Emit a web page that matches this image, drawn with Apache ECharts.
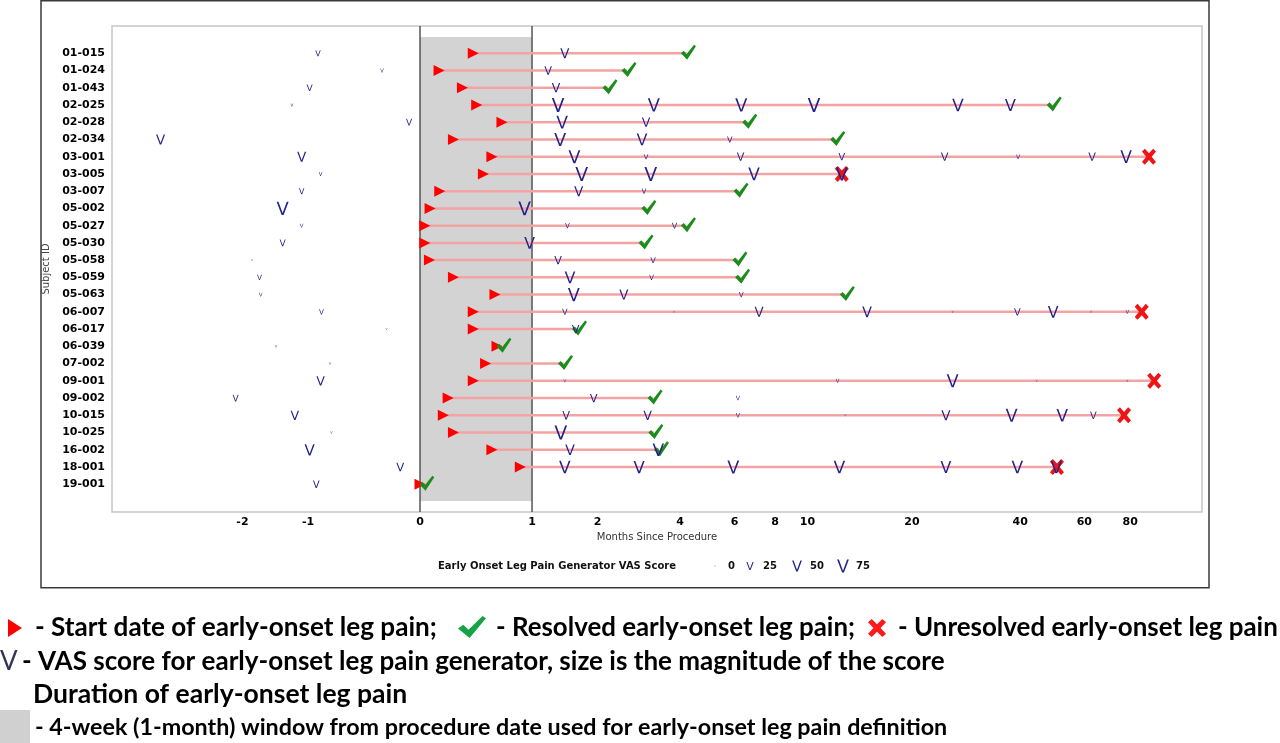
<!DOCTYPE html>
<html><head><meta charset="utf-8">
<script src="https://cdn.jsdelivr.net/npm/echarts@6/dist/echarts.min.js"></script>
<style>html,body{margin:0;padding:0;background:#fff;}#c{width:1280px;height:743px;}</style>
</head><body><div id="c"></div>
<script>
// ---------------- DATA ----------------
const subjects = ['01-015','01-024','01-043','02-025','02-028','02-034','03-001','03-005','03-007','05-002','05-027','05-030','05-058','05-059','05-063','06-007','06-017','06-039','07-002','09-001','09-002','10-015','10-025','16-002','18-001','19-001'];
// months since procedure
const painStart = [0.39,0.125,0.30,0.42,0.66,0.23,0.56,0.48,0.13,0.064,0.03,0.03,0.06,0.23,0.59,0.39,0.39,0.61,0.50,0.39,0.19,0.155,0.23,0.56,0.86,0.0];
const painEnd   = [4.2,2.6,2.2,49,6.6,12.1,90,12.6,6.2,3.07,4.2,3.0,6.15,6.27,12.9,86,1.65,0.66,1.43,93,3.23,77,3.25,3.4,50.5,0.03];
const resolved  = [1,1,1,1,1,1,0,0,1,1,1,1,1,1,1,0,1,1,1,0,1,0,1,1,0,1];
// VAS assessments per subject: months and score
const vasMonths = [
  [-0.88,1.45],
  [-0.265,1.21],
  [-0.98,1.32],
  [-1.21,1.35,3.25,6.3,10.45,26.9,37.6],
  [-0.07,1.41,3.05],
  [-3.98,1.38,2.95,5.8],
  [-1.08,1.6,3.05,6.27,12.6,24.7,39.5,63,78],
  [-0.85,1.72,3.17,6.9,12.6],
  [-1.08,1.67,3.0],
  [-1.34,0.91],
  [-1.08,1.49,3.83],
  [-1.34,0.97],
  [-1.83,1.35,3.23],
  [-1.70,1.53,3.19],
  [-1.68,1.59,2.53,6.3],
  [-0.84,1.45,3.81,7.15,14.9,26.0,39.3,49.3,62.6,78.6],
  [-0.23,1.62],
  [-1.44],
  [-0.745],
  [-0.85,1.45,12.25,26.0,44.4,78.6],
  [-2.13,1.93,6.15],
  [-1.17,1.47,3.09,6.15,12.9,24.9,37.9,52.2,63.5],
  [-0.73,1.39],
  [-0.98,1.53,3.37],
  [-0.13,1.45,2.88,5.95,12.4,24.9,39.3,50.3],
  [-0.9]
];
const vasScores = [
  [12,41],
  [4,27],
  [16,35],
  [2,85,78,78,85,70,62],
  [16,70,35],
  [41,75,60,12],
  [41,75,8,27,20,27,6,27,70],
  [4,87,87,70,78],
  [12,41,8],
  [78,85],
  [4,8,12],
  [16,59],
  [0,27,12],
  [9,59,8],
  [4,75,41,8],
  [9,12,0,41,47,0,20,59,0,4],
  [0,27],
  [1],
  [1],
  [35,2,4,75,0,0],
  [16,27,6],
  [35,27,35,6,0,41,75,70,20],
  [1,87],
  [54,47,70],
  [30,70,65,75,70,60,70,70],
  [20]
];
const windowMonths = [0, 1];
const xTickLabels = [-2,-1,0,1,2,4,6,8,10,20,40,60,80];
const legendScores = [0,25,50,75];

// ---------------- HELPERS ----------------
const tf = m => Math.sign(m) * Math.log(1 + Math.abs(m));
const inv = t => Math.sign(t) * (Math.exp(Math.abs(t)) - 1);
const vH = s => Math.max(2, 1.2 + 1.37 * Math.sqrt(s));
const V_PTS = [[0,0],[1.5,0],[5,9.4],[8.5,0],[10,0],[5.8,11],[4.2,11]];
const TRI_PTS = [[0,0],[10,5],[0,10]];
const CHECK_PTS = [[0,9],[3,6.3],[6,10],[14,0],[16,1.6],[6.6,16]];
const X_PTS = [[3,0],[7.25,4.6],[11.5,0],[14.5,2.8],[10.1,8],[14.5,13.2],[11.5,16],[7.25,11.4],[3,16],[0,13.2],[4.4,8],[0,2.8]];
const toPath = pts => 'path://M' + pts.map(p => p[0] + ',' + p[1]).join(' L') + ' Z';
function fitPts(pts, x, y, w, h) {
  const xs = pts.map(p=>p[0]), ys = pts.map(p=>p[1]);
  const minX = Math.min(...xs), maxX = Math.max(...xs), minY = Math.min(...ys), maxY = Math.max(...ys);
  return pts.map(p => [x + (p[0]-minX)/(maxX-minX)*w, y + (p[1]-minY)/(maxY-minY)*h]);
}
const mctx = document.createElement('canvas').getContext('2d');
function fitSize(text, target, family, maxSize) {
  mctx.font = 'bold 100px ' + family;
  return Math.min(maxSize || 28, 100 * target / mctx.measureText(text).width);
}

const vasData = [];
vasMonths.forEach((arr, i) => arr.forEach((m, j) => vasData.push([tf(m), i, vasScores[i][j]])));

const chart = echarts.init(document.getElementById('c'));
const FONT = 'DejaVu Sans';

const graphics = [
  {type:'rect', shape:{x:41, y:0.75, width:1168, height:587}, style:{fill:'none', stroke:'#3a3a3a', lineWidth:1.5}, z:-1},
  {type:'text', x:438, y:566, style:{text:'Early Onset Leg Pain Generator VAS Score', fontFamily:FONT, fontWeight:'bold', fontSize:10, fill:'#111', verticalAlign:'middle'}}
];
const legSymX = [715, 750, 797, 843];
legendScores.forEach((s, k) => {
  const h = vH(s), w = h * 0.9;
  graphics.push({type:'polygon', shape:{points: fitPts(V_PTS, legSymX[k]-w/2, 566-h/2, w, h)}, style:{fill: s===0 ? '#8a8ab0' : '#22228a'}});
  graphics.push({type:'text', x:legSymX[k]+13, y:566, style:{text:String(s), fontFamily:FONT, fontWeight:'bold', fontSize:10, fill:'#111', verticalAlign:'middle'}});
});
// bottom explanatory legend
const LF = 'Lato';
const bt = (text, x, y, size) => ({type:'text', x, y, style:{text, fontFamily:LF, fontWeight:'bold', fontSize:size, fill:'#000', verticalAlign:'middle'}});
const t1a = '- Start date of early-onset leg pain;';
const t1b = '- Resolved early-onset leg pain;';
const t1c = '- Unresolved early-onset leg pain';
const t2 = '- VAS score for early-onset leg pain generator, size is the magnitude of the score';
const t3 = 'Duration of early-onset leg pain';
const t4 = '- 4-week (1-month) window from procedure date used for early-onset leg pain definition';
const s2 = fitSize(t2, 923, LF);
graphics.push({type:'polygon', shape:{points: fitPts(TRI_PTS, 8, 619, 14, 18)}, style:{fill:'#ff0000'}});
graphics.push(bt(t1a, 35, 628, fitSize(t1a, 402, LF)));
graphics.push({type:'polygon', shape:{points: fitPts(CHECK_PTS, 458, 616, 28, 22)}, style:{fill:'#17a345'}});
graphics.push(bt(t1b, 496, 628, fitSize(t1b, 359, LF)));
graphics.push({type:'polygon', shape:{points: fitPts(X_PTS, 868, 619, 18, 18)}, style:{fill:'#ff1a1a'}});
graphics.push(bt(t1c, 898, 628, fitSize(t1c, 380, LF)));
graphics.push({type:'text', x:0, y:662, style:{text:'V', fontFamily:LF, fontSize:26, fill:'#2f3652', verticalAlign:'middle'}});
graphics.push(bt(t2, 22, 662, s2));
graphics.push(bt(t3, 33, 694, s2 + 0.5));
graphics.push({type:'rect', shape:{x:0, y:710, width:30, height:33}, style:{fill:'#d0d0d0'}});
graphics.push(bt(t4, 35, 727, fitSize(t4, 913, LF)));

const option = {
  animation: false,
  backgroundColor: '#fff',
  grid: {left:112, top:26, width:1090, height:486, show:true, borderColor:'#c6c6c6', borderWidth:1.5, containLabel:false},
  xAxis: {
    type:'value', min:-1.906, max:4.839,
    axisLine:{show:false}, axisTick:{show:false}, splitLine:{show:false},
    axisLabel:{customValues: xTickLabels.map(tf), formatter: v => String(Math.round(inv(v))), fontFamily:FONT, fontWeight:'bold', fontSize:11, color:'#000', margin:5},
    name:'Months Since Procedure', nameLocation:'middle', nameGap:13,
    nameTextStyle:{fontFamily:FONT, fontSize:10, color:'#333'}
  },
  yAxis: {
    type:'value', inverse:true, min:-1.58, max:26.61,
    axisLine:{show:false}, axisTick:{show:false}, splitLine:{show:false},
    axisLabel:{customValues: subjects.map((s,i)=>i), formatter: v => subjects[Math.round(v)] || '', fontFamily:FONT, fontWeight:'bold', fontSize:11, color:'#000', margin:7},
    name:'Subject ID', nameLocation:'middle', nameGap:52, nameRotate:90,
    nameTextStyle:{fontFamily:FONT, fontSize:10, color:'#444'}
  },
  graphic: graphics,
  series: [
    { // 1-month window
      type:'custom', z:1, silent:true,
      data:[[tf(windowMonths[0]), tf(windowMonths[1])]],
      encode:{x:[0,1]},
      renderItem:(params, api) => {
        const cs = params.coordSys;
        const x0 = api.coord([api.value(0), 0])[0];
        const x1 = api.coord([api.value(1), 0])[0];
        return {type:'group', children:[
          {type:'rect', shape:{x:x0, y:cs.y+11, width:x1-x0, height:cs.height-22}, style:{fill:'#d3d3d3'}},
          {type:'line', shape:{x1:x0, y1:cs.y, x2:x0, y2:cs.y+cs.height}, style:{stroke:'#555', lineWidth:1.5}},
          {type:'line', shape:{x1:x1, y1:cs.y, x2:x1, y2:cs.y+cs.height}, style:{stroke:'#555', lineWidth:1.5}}
        ]};
      }
    },
    { // duration lines
      type:'custom', z:2, silent:true,
      data: subjects.map((s,i)=>[tf(painStart[i]), tf(painEnd[i]), i]),
      encode:{x:[0,1], y:2},
      renderItem:(params, api) => {
        const p0 = api.coord([api.value(0), api.value(2)]);
        const p1 = api.coord([api.value(1), api.value(2)]);
        return {type:'line', shape:{x1:p0[0], y1:p0[1], x2:p1[0], y2:p1[1]}, style:{stroke:'#f4a3a3', lineWidth:2.5}};
      }
    },
    { // start triangles
      type:'scatter', z:3, silent:true,
      symbol: toPath(TRI_PTS), symbolSize:[11,11], symbolKeepAspect:false,
      itemStyle:{color:'#ff0000', opacity:1},
      data: subjects.map((s,i)=>[tf(painStart[i]), i])
    },
    { // resolved
      type:'scatter', z:4, silent:true,
      symbol: toPath(CHECK_PTS), symbolSize:[15,15], symbolOffset:[2,-1],
      itemStyle:{color:'#1c8c1c', opacity:1},
      data: subjects.map((s,i)=>resolved[i] ? [tf(painEnd[i]), i] : null).filter(d=>d)
    },
    { // unresolved
      type:'scatter', z:4, silent:true,
      symbol: toPath(X_PTS), symbolSize:[14,16],
      itemStyle:{color:'#f01414', opacity:1},
      data: subjects.map((s,i)=>resolved[i] ? null : [tf(painEnd[i]), i]).filter(d=>d)
    },
    { // VAS scores
      type:'scatter', z:5, silent:true,
      symbol: toPath(V_PTS), symbolKeepAspect:false,
      symbolSize: v => { const h = vH(v[2]); return [h*0.9, h]; },
      itemStyle:{color:'#22228a', opacity:1},
      data: vasData
    }
  ]
};
chart.setOption(option);
</script>
</body></html>
